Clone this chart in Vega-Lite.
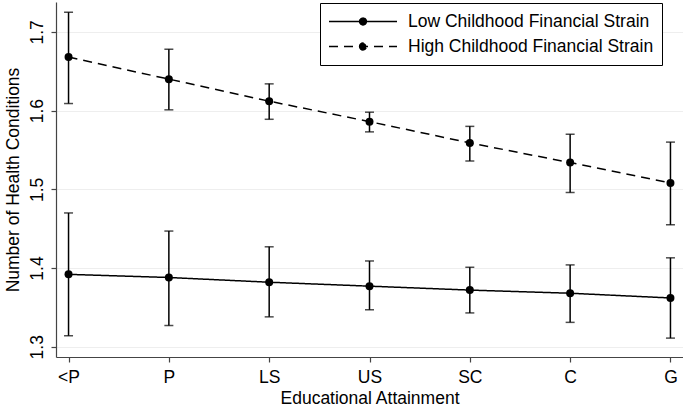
{
  "$schema": "https://vega.github.io/schema/vega-lite/v6.json",
  "width": 627,
  "height": 355,
  "autosize": {"type": "none"},
  "padding": {"left": 56, "top": 2, "right": 0, "bottom": 53},
  "background": "white",
  "config": {
    "font": "Liberation Sans",
    "view": {"stroke": null},
    "axis": {"labelFont": "Liberation Sans", "titleFont": "Liberation Sans", "labelFontSize": 17.5, "titleFontSize": 17.5, "titleFontWeight": "normal", "labelColor": "#000", "titleColor": "#000", "domainColor": "#444", "tickColor": "#444", "tickSize": 5, "domainWidth": 1.2, "tickWidth": 1.2}
  },
  "data": {"values": [
    {"edu": "<P", "group": "Low Childhood Financial Strain", "mean": 1.392, "lo": 1.314, "hi": 1.470},
    {"edu": "P", "group": "Low Childhood Financial Strain", "mean": 1.388, "lo": 1.327, "hi": 1.447},
    {"edu": "LS", "group": "Low Childhood Financial Strain", "mean": 1.382, "lo": 1.338, "hi": 1.427},
    {"edu": "US", "group": "Low Childhood Financial Strain", "mean": 1.377, "lo": 1.347, "hi": 1.409},
    {"edu": "SC", "group": "Low Childhood Financial Strain", "mean": 1.372, "lo": 1.343, "hi": 1.401},
    {"edu": "C", "group": "Low Childhood Financial Strain", "mean": 1.368, "lo": 1.331, "hi": 1.404},
    {"edu": "G", "group": "Low Childhood Financial Strain", "mean": 1.362, "lo": 1.311, "hi": 1.413},
    {"edu": "<P", "group": "High Childhood Financial Strain", "mean": 1.668, "lo": 1.609, "hi": 1.725},
    {"edu": "P", "group": "High Childhood Financial Strain", "mean": 1.640, "lo": 1.601, "hi": 1.678},
    {"edu": "LS", "group": "High Childhood Financial Strain", "mean": 1.612, "lo": 1.589, "hi": 1.634},
    {"edu": "US", "group": "High Childhood Financial Strain", "mean": 1.586, "lo": 1.573, "hi": 1.598},
    {"edu": "SC", "group": "High Childhood Financial Strain", "mean": 1.559, "lo": 1.536, "hi": 1.580},
    {"edu": "C", "group": "High Childhood Financial Strain", "mean": 1.534, "lo": 1.496, "hi": 1.570},
    {"edu": "G", "group": "High Childhood Financial Strain", "mean": 1.508, "lo": 1.455, "hi": 1.560}
  ]},
  "encoding": {
    "x": {"field": "edu", "type": "ordinal", "sort": ["<P", "P", "LS", "US", "SC", "C", "G"],
      "scale": {"type": "point", "padding": 0.125},
      "axis": {"title": "Educational Attainment", "labelAngle": 0, "labelPadding": 6, "titlePadding": 4, "grid": false}}
  },
  "layer": [
    {
      "mark": {"type": "rule", "color": "black", "strokeWidth": 1.5},
      "encoding": {
        "y": {"field": "lo", "type": "quantitative", "scale": {"domain": [1.287, 1.738], "nice": false, "zero": false},
          "axis": {"title": "Number of Health Conditions", "values": [1.3, 1.4, 1.5, 1.6, 1.7], "format": ".1f", "grid": true, "gridColor": "#eeeeee", "gridWidth": 1.2, "labelAngle": 270, "labelAlign": "center", "labelBaseline": "alphabetic", "labelPadding": 9, "titlePadding": 6}},
        "y2": {"field": "hi"}
      }
    },
    {
      "mark": {"type": "tick", "color": "black", "thickness": 1.5, "size": 9, "orient": "horizontal"},
      "encoding": {"y": {"field": "lo", "type": "quantitative"}}
    },
    {
      "mark": {"type": "tick", "color": "black", "thickness": 1.5, "size": 9, "orient": "horizontal"},
      "encoding": {"y": {"field": "hi", "type": "quantitative"}}
    },
    {
      "mark": {"type": "line", "color": "black", "strokeWidth": 1.5},
      "encoding": {
        "y": {"field": "mean", "type": "quantitative"},
        "strokeDash": {"field": "group", "type": "nominal",
          "scale": {"domain": ["Low Childhood Financial Strain", "High Childhood Financial Strain"], "range": [[1, 0], [9, 6]]},
          "legend": {"title": null, "orient": "none", "legendX": 264, "legendY": 1,
            "symbolType": "M-1,0H1M-0.1,0A0.1,0.1 0 1,0 0.1,0A0.1,0.1 0 1,0 -0.1,0Z",
            "symbolSize": 4624, "symbolStrokeWidth": 1.5, "symbolStrokeColor": "black", "symbolFillColor": "black",
            "symbolDash": null,
            "clipHeight": 21, "rowPadding": 4, "padding": 8, "labelOffset": 10, "labelLimit": 400,
            "labelFontSize": 17.5, "labelFont": "Liberation Sans", "labelColor": "#000",
            "strokeColor": "black", "fillColor": "white", "cornerRadius": 0}
        }
      }
    },
    {
      "mark": {"type": "point", "filled": true, "color": "black", "size": 64, "opacity": 1},
      "encoding": {"y": {"field": "mean", "type": "quantitative"}}
    }
  ]
}
